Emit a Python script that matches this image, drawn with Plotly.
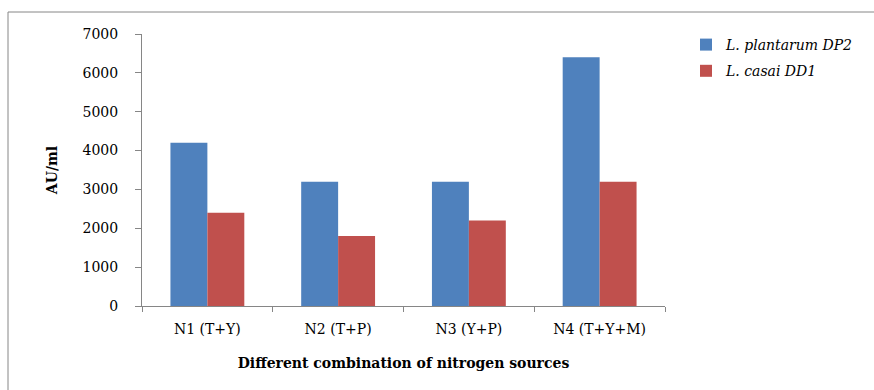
import plotly.graph_objects as go

categories = ["N1 (T+Y)", "N2 (T+P)", "N3 (Y+P)", "N4 (T+Y+M)"]
plantarum = [4200, 3200, 3200, 6400]
casai = [2400, 1800, 2200, 3200]
y_ticks = [0, 1000, 2000, 3000, 4000, 5000, 6000, 7000]

FONT = "DejaVu Serif, Liberation Serif, serif"
L, R, T, B = 142, 209, 34, 84
W, H = 874, 390
pw, ph = W - L - R, H - T - B

def px(x):
    return (x - L) / pw

def py(y):
    return (H - B - y) / ph

fig = go.Figure()
fig.add_trace(go.Bar(x=categories, y=plantarum, name="L. plantarum DP2",
                     legendgroup="a",
                     marker=dict(color="#4F81BD", line=dict(width=0))))
fig.add_trace(go.Bar(x=categories, y=casai, name="L. casai DD1",
                     legendgroup="b",
                     marker=dict(color="#C0504D", line=dict(width=0))))

fig.update_layout(
    width=W, height=H,
    margin=dict(l=L, r=R, t=T, b=B),
    paper_bgcolor="white", plot_bgcolor="white",
    barmode="group", bargap=0.435, bargroupgap=0,
    font=dict(family=FONT, size=14, color="black"),
    showlegend=True,
    legend=dict(x=px(686), y=py(29), xanchor="left", yanchor="top",
                font=dict(family=FONT, size=14, style="italic", color="black"),
                tracegroupgap=5, itemwidth=30, bgcolor="rgba(0,0,0,0)"),
    xaxis=dict(
        type="category", showline=True, linecolor="#868686", linewidth=1,
        ticks="outside", tickson="boundaries", ticklen=5, tickcolor="#868686",
        showgrid=False, tickfont=dict(family=FONT, size=14),
        ticklabelstandoff=10,
        title=dict(text="<b>Different combination of nitrogen sources</b>",
                   font=dict(family=FONT, size=14), standoff=22),
    ),
    yaxis=dict(
        range=[0, 7000], tickvals=y_ticks, showline=True, linecolor="#868686",
        linewidth=1, ticks="outside", ticklen=6, tickcolor="#868686",
        showgrid=False, zeroline=False, tickfont=dict(family=FONT, size=14),
        ticklabelstandoff=14,
        title=dict(text="<b>AU/ml</b>", font=dict(family=FONT, size=14), standoff=21),
    ),
    shapes=[dict(type="rect", xref="paper", yref="paper",
                 x0=px(8), x1=px(880), y0=py(400), y1=py(12),
                 line=dict(color="#868686", width=1), fillcolor="rgba(0,0,0,0)",
                 layer="below")],
)

fig.write_html("out.html")
